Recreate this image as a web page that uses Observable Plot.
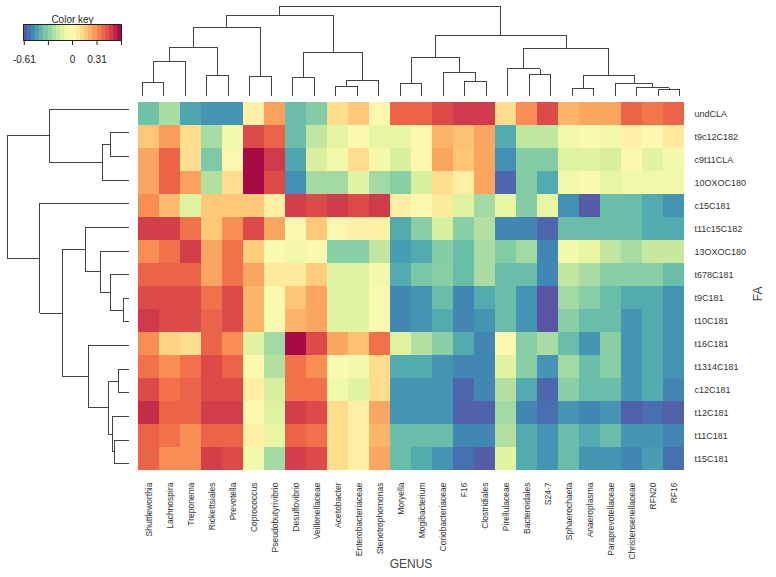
<!DOCTYPE html>
<html><head><meta charset="utf-8">
<script src="https://cdn.jsdelivr.net/npm/d3@7"></script>
<script src="https://cdn.jsdelivr.net/npm/@observablehq/plot@0.6"></script>
<style>
html,body{margin:0;padding:0;background:#fff;}
#chart{position:relative;width:776px;height:577px;font-family:"Liberation Sans",Arial,sans-serif;}
#chart svg{position:absolute;left:0;top:0;}
</style></head><body><div id="chart"></div>
<script>
// ---- data ----
const genus = ["Shuttleworthia","Lachnospira","Treponema","Rickettsiales","Prevotella","Coprococcus","Pseudobutyrivibrio","Desulfovibrio","Veillonellaceae","Acetobacter","Enterobacteriaceae","Stenotrophomonas","Moryella","Mogibacterium","Coriobacteriaceae","F16","Clostridiales","Pirellulaceae","Bacteroidales","S24-7","Sphaerochaeta","Anaeroplasma","Paraprevotellaceae","Christensenellaceae","RFN20","RF16"];
const fa = ["undCLA","t9c12C182","c9t11CLA","10OXOC180","c15C181","t11c15C182","13OXOC180","t678C181","t9C181","t10C181","t16C181","t1314C181","c12C181","t12C181","t11C181","t15C181"];
const cellValues = [
 [-0.36,-0.25,-0.43,-0.47,-0.47,0.05,0.27,-0.37,-0.32,0.12,0.18,0.01,0.4, 0.4,0.46,0.5,0.5,0.12,0.31,0.46,0.23,0.26,0.26,0.4,0.36,0.4],
 [0.18,0.28,0.12,-0.25,-0.06,0.46,0.4,-0.37,-0.2,-0.11,0,-0.1,-0.1, 0,0.23,0.2,0.26,-0.42,-0.2,-0.2,-0.07,-0.01,-0.06,0.05,0,0.08],
 [0.26,0.4,0.12,-0.33,0.01,0.6,0.5,-0.43,-0.14,-0.06,0.12,-0.06,-0.15, 0,0.26,0.19,0.26,-0.48,-0.32,-0.32,-0.13,-0.12,-0.15,0.01,-0.12,-0.06],
 [0.26,0.4,0.27,-0.23,0.12,0.6,0.46,-0.48,-0.26,-0.26,-0.12,-0.26,-0.31, -0.15,0.12,0.06,0.26,-0.57,-0.32,-0.42,-0.07,0,-0.1,-0.07,-0.07,-0.07],
 [0.31,0.21,-0.13,0.18,0.18,0.18,0.06,0.49,0.46,0.5,0.46,0.5,0.06, 0,0.08,-0.13,-0.26,-0.1,-0.32,-0.1,-0.48,-0.59,-0.37,-0.37,-0.42,-0.47],
 [0.49,0.49,0.37,0.18,0.31,0.46,0.26,0,0.18,0.01,0.05,0.05,-0.42, -0.31,-0.14,-0.31,-0.23,-0.5,-0.5,-0.57,-0.37,-0.37,-0.37,-0.37,-0.42,-0.42],
 [0.31,0.37,0.49,0.26,0.37,0.17,0,-0.07,0.01,-0.31,-0.31,-0.2,-0.45, -0.42,-0.32,-0.37,-0.25,-0.32,-0.26,-0.5,-0.06,-0.1,-0.2,-0.25,-0.19,-0.19],
 [0.4,0.4,0.4,0.26,0.37,0.26,0.08,0.08,0.17,-0.12,-0.12,-0.06,-0.42, -0.34,-0.31,-0.37,-0.25,-0.37,-0.37,-0.5,-0.2,-0.25,-0.31,-0.31,-0.31,-0.37],
 [0.46,0.46,0.46,0.37,0.46,0.23,0,0.19,0.26,-0.12,-0.12,0,-0.5, -0.47,-0.37,-0.5,-0.42,-0.37,-0.47,-0.61,-0.26,-0.31,-0.37,-0.42,-0.42,-0.47],
 [0.5,0.46,0.46,0.4,0.46,0.23,0,0.23,0.26,-0.12,-0.12,0,-0.5, -0.47,-0.42,-0.5,-0.47,-0.37,-0.47,-0.61,-0.31,-0.37,-0.37,-0.47,-0.42,-0.47],
 [0.31,0.15,0.12,0.4,0.31,-0.12,-0.26,0.6,0.46,0.26,0.2,0.37,-0.13, -0.23,-0.31,-0.42,-0.5,0,-0.31,-0.25,-0.37,-0.47,-0.31,-0.47,-0.42,-0.47],
 [0.37,0.31,0.37,0.46,0.4,0,-0.23,0.37,0.31,0,-0.06,0.12,-0.42, -0.42,-0.47,-0.5,-0.5,-0.12,-0.31,-0.47,-0.26,-0.37,-0.31,-0.47,-0.42,-0.47],
 [0.46,0.37,0.4,0.46,0.46,0.06,-0.15,0.37,0.37,-0.07,-0.12,0.12,-0.47, -0.47,-0.47,-0.57,-0.5,-0.23,-0.42,-0.57,-0.31,-0.37,-0.37,-0.47,-0.42,-0.5],
 [0.53,0.4,0.4,0.49,0.49,0.01,-0.13,0.49,0.46,0.12,0.06,0.26,-0.47, -0.47,-0.47,-0.58,-0.58,-0.26,-0.5,-0.55,-0.47,-0.5,-0.47,-0.58,-0.55,-0.58],
 [0.4,0.37,0.31,0.4,0.4,0.06,-0.1,0.4,0.37,0.12,0.06,0.23,-0.37, -0.37,-0.37,-0.5,-0.5,-0.23,-0.42,-0.47,-0.37,-0.42,-0.37,-0.47,-0.47,-0.5],
 [0.4,0.31,0.31,0.49,0.46,-0.06,-0.26,0.49,0.46,0.12,0.06,0.26,-0.37, -0.42,-0.47,-0.55,-0.59,-0.12,-0.42,-0.47,-0.37,-0.47,-0.47,-0.5,-0.45,-0.55]
];
// dendrogram merges (hclust style: negative = leaf number, positive = earlier merge), third item = merge height
const colMerges = [
 [-1,-2,13.3],[1,-3,33.7],[-4,-5,20.3],[2,3,48.3],[-6,-7,18.7],[4,5,67.7],
 [-8,-9,17.7],[-10,-11,8.7],[8,-12,14.7],[7,9,42.7],[6,10,80.3],
 [-13,-14,11.7],[-16,-17,14.3],[-15,13,23.3],[12,14,38.3],
 [-19,-20,21],[-18,16,27],[-21,-22,7],[-25,-26,5.7],[-24,19,7.7],[-23,20,12.3],[18,21,20.3],[17,22,46.7],
 [15,23,60.3],[11,24,89.3]
];
const rowMerges = [
 [-2,-3,18],[1,-4,26.3],[-1,2,79.3],
 [-9,-10,4.7],[-8,4,18],[-7,5,28],[-6,6,43],
 [-12,-13,10],[-15,-16,14],[-14,9,16],[8,10,20],[-11,11,40],
 [7,12,66.3],[-5,13,88.7],[3,14,120.7]
];
const colorDomain = [-0.62, 0.62];
const keyTicks = [-0.61, -0.305, 0, 0.31, 0.62];
const keyLabels = ["-0.61", "", "0", "0.31", ""];

(function () {
const FONT = '"Liberation Sans", Arial, sans-serif';
const color = {type: "linear", scheme: "spectral", reverse: true, domain: colorDomain};
const cells = [];
fa.forEach((f, r) => genus.forEach((g, c) => cells.push({fa: f, genus: g, v: cellValues[r][c]})));

function dendroPaths(merges) {
  const pos = [], hgt = [], pts = [];
  const get = k => k < 0 ? [(-k) - 0.5, 0] : [pos[k - 1], hgt[k - 1]];
  merges.forEach(([a, b, h], i) => {
    const [pa, ha] = get(a), [pb, hb] = get(b);
    pts.push({id: i, p: pa, h: ha}, {id: i, p: pa, h}, {id: i, p: pb, h}, {id: i, p: pb, h: hb});
    pos.push((pa + pb) / 2); hgt.push(h);
  });
  return pts;
}

const chart = document.getElementById("chart");
const baseStyle = {background: "transparent", fontFamily: FONT, color: "#333", overflow: "visible"};

const heatPlot = Plot.plot({
  width: 776, height: 577,
  marginLeft: 131, marginRight: 86, marginTop: 97, marginBottom: 102,
  style: baseStyle,
  x: {type: "band", domain: genus, padding: 0},
  y: {type: "band", domain: fa, padding: 0},
  color,
  marks: [
    Plot.cell(cells, {x: "genus", y: "fa", fill: "v", inset: 0, shapeRendering: "crispEdges"}),
    Plot.axisX({anchor: "bottom", tickRotate: -90, tickSize: 0, tickPadding: 7, fontSize: 8.5, label: null, fill: "#333"}),
    Plot.axisY({anchor: "right", tickSize: 0, tickPadding: 4, fontSize: 9, label: null, fill: "#333"}),
    Plot.text(["GENUS"], {text: d => d, frameAnchor: "bottom", dy: 92, fontSize: 12, fill: "#444"}),
    Plot.text(["FA"], {text: d => d, frameAnchor: "right", dx: 68, rotate: -90, fontSize: 12, fill: "#444"})
  ]
});
chart.appendChild(heatPlot);

const topDendro = Plot.plot({
  width: 776, height: 97,
  marginLeft: 131, marginRight: 86, marginTop: 0, marginBottom: 2,
  style: baseStyle,
  x: {domain: [0, genus.length], axis: null},
  y: {domain: [0, 95], axis: null},
  marks: [
    Plot.line(dendroPaths(colMerges), {x: "p", y: "h", z: "id", stroke: "#444", strokeWidth: 1, shapeRendering: "crispEdges"})
  ]
});
chart.appendChild(topDendro);

const leftDendro = Plot.plot({
  width: 131, height: 577,
  marginLeft: 0, marginRight: 3, marginTop: 97, marginBottom: 102,
  style: baseStyle,
  x: {domain: [0, 128], reverse: true, axis: null},
  y: {domain: [0, fa.length], reverse: true, axis: null},
  marks: [
    Plot.line(dendroPaths(rowMerges), {x: "h", y: "p", z: "id", stroke: "#444", strokeWidth: 1, shapeRendering: "crispEdges"})
  ]
});
chart.appendChild(leftDendro);

const nBands = 24;
const bands = d3.range(nBands).map(i => {
  const x1 = colorDomain[0] + (colorDomain[1] - colorDomain[0]) * i / nBands;
  const x2 = colorDomain[0] + (colorDomain[1] - colorDomain[0]) * (i + 1) / nBands;
  return {x1, x2, v: (x1 + x2) / 2};
});
const keyLabelMap = new Map(keyTicks.map((t, i) => [t, keyLabels[i]]));
const keyPlot = Plot.plot({
  width: 145, height: 70,
  marginLeft: 23, marginRight: 24, marginTop: 24, marginBottom: 30,
  style: baseStyle,
  x: {domain: colorDomain},
  y: {axis: null},
  color,
  marks: [
    Plot.rect(bands, {x1: "x1", x2: "x2", fill: "v", shapeRendering: "crispEdges"}),
    Plot.frame({stroke: "#222"}),
    Plot.axisX({ticks: keyTicks, tickSize: 5, tickPadding: 10, fontSize: 10, tickFormat: d => keyLabelMap.get(d), label: null, stroke: "#222", fill: "#222"}),
    Plot.text(["Color key"], {text: d => d, frameAnchor: "top", dy: -9, fontSize: 10, fill: "#222"})
  ]
});
chart.appendChild(keyPlot);
})();
</script></body></html>
